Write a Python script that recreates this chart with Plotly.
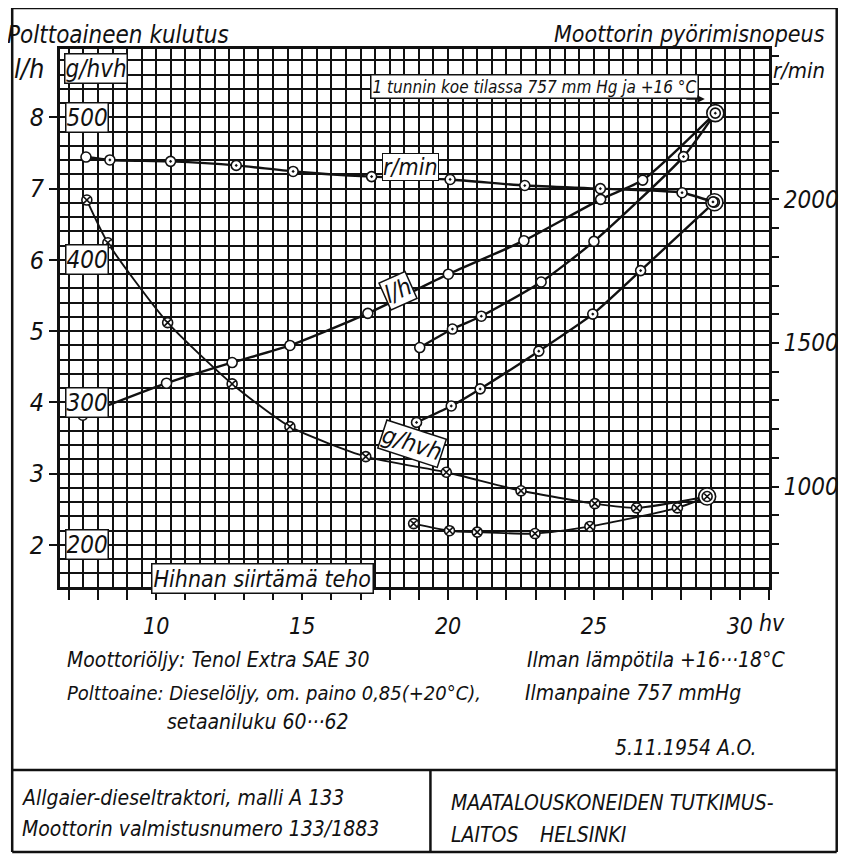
import plotly.graph_objects as go

# ---------------- data ----------------
# Curve "l/h" (fuel consumption, litres per hour) - main curve
lh_a_x = [7.48, 10.35, 12.60, 14.58, 17.25, 20.01, 22.60, 25.23, 26.67, 29.16]
lh_a_y = [3.82, 4.27, 4.56, 4.80, 5.25, 5.80, 6.27, 6.85, 7.12, 8.06]
lh_a_sym = ["circle"] * 10

# second l/h curve
lh_b_x = [19.03, 20.15, 21.14, 23.19, 25.00, 28.07, 29.16]
lh_b_y = [4.77, 5.03, 5.21, 5.69, 6.26, 7.45, 8.06]
lh_b_sym = ["circle", "circle-dot", "circle-dot", "circle", "circle", "circle-dot", "circle-dot"]

# third l/h curve
lh_c_x = [18.92, 20.11, 21.10, 23.11, 24.96, 26.60, 29.13]
lh_c_y = [3.72, 3.95, 4.19, 4.72, 5.24, 5.85, 6.81]

# engine speed r/min
rpm_x = [7.59, 8.41, 10.49, 12.74, 14.69, 17.38, 20.07, 22.63, 25.22, 28.02, 29.08]
rpm_y = [2147, 2137, 2132, 2118, 2097, 2079, 2069, 2048, 2037, 2023, 1991]

# specific consumption g/hvh
g_d_x = [7.62, 8.34, 10.39, 12.60, 14.58, 17.18, 19.94, 22.50, 25.03, 26.46, 28.88]
g_d_y = [442, 412, 356, 313, 283, 262, 251, 238, 229, 226, 234]
g_e_x = [18.82, 20.05, 21.00, 22.98, 24.86, 27.86, 28.88]
g_e_y = [215, 210, 209, 208, 213, 226, 234]

x_ticks = [10, 15, 20, 25, 30]
lh_ticks = [2, 3, 4, 5, 6, 7, 8]
g_ticks = [200, 300, 400, 500]
rpm_labels = [1000, 1500, 2000]

# ---------------- scales ----------------
X_RANGE = [6.7, 31.0]
LH_RANGE = [1.41, 8.96]
G_RANGE = [50 * v + 100 for v in LH_RANGE]       # g/hvh = 50 * l/h + 100
RPM_RANGE = [651, 2523]

FONT = "Liberation Sans Narrow, DejaVu Sans Condensed, Arial Narrow, sans-serif"
INK = "#111111"

fig = go.Figure()

line_style = dict(color=INK, width=2.4, shape="spline", smoothing=0.6)
mk = dict(size=10, color="white", line=dict(color=INK, width=1.6))

fig.add_trace(go.Scatter(x=lh_a_x, y=lh_a_y, mode="lines+markers", line=line_style,
                         marker=dict(mk, symbol=lh_a_sym), name="l/h"))
fig.add_trace(go.Scatter(x=lh_b_x, y=lh_b_y, mode="lines+markers", line=line_style,
                         marker=dict(mk, symbol=lh_b_sym), name="l/h 2"))
fig.add_trace(go.Scatter(x=lh_c_x, y=lh_c_y, mode="lines+markers", line=line_style,
                         marker=dict(mk, symbol="circle-dot"), name="l/h 3"))
fig.add_trace(go.Scatter(x=rpm_x, y=rpm_y, yaxis="y2", mode="lines+markers", line=line_style,
                         marker=dict(mk, symbol=["circle"] + ["circle-dot"] * (len(rpm_x) - 1)),
                         name="r/min"))
fig.add_trace(go.Scatter(x=g_d_x, y=g_d_y, yaxis="y3", mode="lines+markers",
                         line=dict(line_style, width=1.9),
                         marker=dict(mk, symbol="circle-x"), name="g/hvh"))
fig.add_trace(go.Scatter(x=g_e_x, y=g_e_y, yaxis="y3", mode="lines+markers",
                         line=dict(line_style, width=1.9),
                         marker=dict(mk, symbol="circle-x"), name="g/hvh 2"))

# double circles at the final (full load) points
big = dict(size=17, color="white", line=dict(color=INK, width=1.6), symbol="circle")
fig.add_trace(go.Scatter(x=[lh_a_x[-1], lh_c_x[-1]], y=[lh_a_y[-1], lh_c_y[-1]], mode="markers",
                         marker=big))
fig.add_trace(go.Scatter(x=[lh_a_x[-1], lh_c_x[-1]], y=[lh_a_y[-1], lh_c_y[-1]], mode="markers",
                         marker=dict(mk, symbol="circle-dot")))
fig.add_trace(go.Scatter(x=[g_d_x[-1]], y=[g_d_y[-1]], yaxis="y3", mode="markers", marker=big))
fig.add_trace(go.Scatter(x=[g_d_x[-1]], y=[g_d_y[-1]], yaxis="y3", mode="markers",
                         marker=dict(mk, symbol="circle-x")))

x_all = list(range(7, 32))
# the page body has an 8 px margin, so the figure is 8 px smaller and offsets drop by 8
fig.update_layout(
    width=843, height=856,
    margin=dict(l=52, r=79, t=41, b=277),
    paper_bgcolor="white", plot_bgcolor="white",
    showlegend=False,
    font=dict(family=FONT, color=INK, style="italic"),
    xaxis=dict(range=X_RANGE, tickvals=x_all,
               ticktext=[str(v) if v in x_ticks else "" for v in x_all],
               ticks="outside", ticklen=10, tickwidth=2, tickcolor=INK,
               ticklabelstandoff=6,
               tickfont=dict(size=23, family=FONT, style="italic"),
               showgrid=True, gridcolor=INK, gridwidth=1.7,
               minor=dict(dtick=0.5, tick0=0, showgrid=True, gridcolor=INK, gridwidth=1.7),
               showline=True, linecolor=INK, linewidth=3, mirror=True, zeroline=False),
    yaxis=dict(range=LH_RANGE, tickvals=lh_ticks,
               ticks="outside", ticklen=8, tickwidth=2, tickcolor=INK,
               tickfont=dict(size=25, family=FONT, style="italic"),
               showgrid=True, gridcolor=INK, gridwidth=1.7,
               minor=dict(dtick=0.2, tick0=0, showgrid=True, gridcolor=INK, gridwidth=1.7),
               showline=True, linecolor=INK, linewidth=3, mirror=True, zeroline=False),
    yaxis2=dict(range=RPM_RANGE, overlaying="y", side="right",
                tickvals=list(range(700, 2501, 100)),
                ticktext=[str(v) if v in rpm_labels else "" for v in range(700, 2501, 100)],
                ticks="outside", ticklen=9, tickwidth=2, tickcolor=INK,
                tickfont=dict(size=24, family=FONT, style="italic"),
                showgrid=False, zeroline=False, showline=False),
    yaxis3=dict(range=G_RANGE, overlaying="y", visible=False),
)

ann = []
def A(text, x, y, xref="paper", yref="paper", size=21, xa="left", ya="middle", **kw):
    ann.append(dict(text=text, x=x, y=y, xref=xref, yref=yref, showarrow=False,
                    xanchor=xa, yanchor=ya, font=dict(size=size, family=FONT, color=INK, style="italic"),
                    **kw))

# g/hvh scale labels inside the plot (boxed)
for g in g_ticks:
    A(str(g), 0, (g - 100) / 50, yref="y", size=24, xshift=5,
      bgcolor="white", bordercolor=INK, borderwidth=1.5, borderpad=0)

A("g/hvh", 0, 8.69, yref="y", size=24, xshift=4, bgcolor="white", bordercolor=INK,
  borderwidth=1.5, borderpad=0)
A("l/h", -0.068, 8.69, yref="y", size=27)
A("Polttoaineen kulutus", -0.077, 1.026, size=24)
A("Moottorin pyörimisnopeus", 1.0815, 1.027, size=23, xa="right")
A("r/min", 1.003, 8.66, yref="y", size=22)
A("hv", 30.6, -0.067, xref="x", size=23)

# curve labels
A("r/min", 18.71, 7.30, xref="x", yref="y", size=23, xa="center", bgcolor="white",
  bordercolor=INK, borderwidth=1, borderpad=0)
A("l/h", 18.30, 5.57, xref="x", yref="y", size=24, xa="center", textangle=-24,
  bgcolor="white", bordercolor=INK, borderwidth=1.5, borderpad=0)
A("g/hvh", 18.75, 3.42, xref="x", yref="y", size=24, xa="center", textangle=18,
  bgcolor="white", bordercolor=INK, borderwidth=1.5, borderpad=0)
A("Hihnan siirtämä teho", 13.63, 1.53, xref="x", yref="y", size=23, xa="center",
  bgcolor="white", bordercolor=INK, borderwidth=1.5, borderpad=1)
A("1 tunnin koe tilassa 757 mm Hg ja +16 °C", 22.95, 8.43, xref="x", yref="y", size=17,
  xa="center", bgcolor="white", bordercolor=INK, borderwidth=1.5, borderpad=1)
ann.append(dict(x=28.8, y=8.26, xref="x", yref="y", ax=-20, ay=0, text="", showarrow=True,
                arrowhead=2, arrowsize=1, arrowwidth=1.5, arrowcolor=INK))

# notes below the chart
A("Moottoriöljy: Tenol Extra SAE 30", 0.007, -0.1357, size=21)
A("Polttoaine: Dieselöljy, om. paino 0,85(+20°C),", 0.007, -0.197, size=20)
A("setaaniluku 60···62", 0.1475, -0.251, size=21)
A("Ilman lämpötila +16···18°C", 0.656, -0.1357, size=21)
A("Ilmanpaine 757 mmHg", 0.653, -0.197, size=21)
A("5.11.1954 A.O.", 0.7795, -0.299, size=21)
A("Allgaier-dieseltraktori, malli A 133", -0.056, -0.392, size=21)
A("Moottorin valmistusnumero 133/1883", -0.056, -0.450, size=21)
A("MAATALOUSKONEIDEN TUTKIMUS-", 0.548, -0.4015, size=21)
A("LAITOS", 0.548, -0.461, size=21)
A("HELSINKI", 0.674, -0.461, size=21)

fig.update_layout(annotations=ann)

# sheet frame (page pixel positions converted to paper fractions of the plot area)
def px_x(p):
    return (p - 60) / 712
def px_y(p):
    return (587 - p) / 538
frame = dict(type="line", xref="paper", yref="paper", line=dict(color=INK, width=2.5))
shapes = [
    dict(frame, x0=px_x(12), x1=px_x(840), y0=px_y(8), y1=px_y(8)),
    dict(frame, x0=px_x(12), x1=px_x(840), y0=px_y(852), y1=px_y(852)),
    dict(frame, x0=px_x(12), x1=px_x(12), y0=px_y(8), y1=px_y(852)),
    dict(frame, x0=px_x(840), x1=px_x(840), y0=px_y(8), y1=px_y(852)),
    dict(frame, x0=px_x(12), x1=px_x(840), y0=px_y(770), y1=px_y(770)),
    dict(frame, x0=px_x(432), x1=px_x(432), y0=px_y(770), y1=px_y(852)),
]
fig.update_layout(shapes=shapes)

fig.write_html("out.html")
